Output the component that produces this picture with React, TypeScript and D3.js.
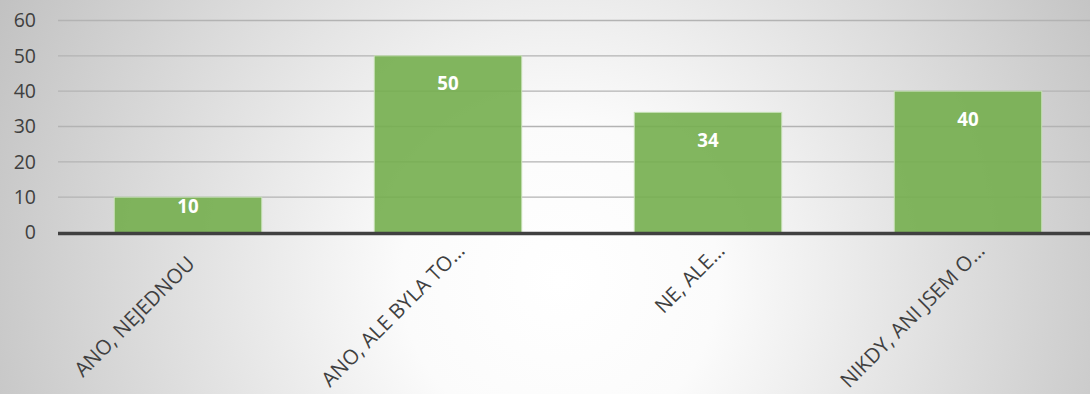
import React from "react";
import * as d3 from "d3";

const categories = ["ANO, NEJEDNOU", "ANO, ALE BYLA TO…", "NE, ALE…", "NIKDY, ANI JSEM O…"];
const values = [10, 50, 34, 40];
const yTicks = [0, 10, 20, 30, 40, 50, 60];

const W = 1090;
const H = 394;
const FONT = "'Open Sans', 'Noto Sans', sans-serif";

export default function App() {
  const x = d3.scaleBand<string>().domain(categories).range([58, 1098]).paddingInner(0.433).paddingOuter(0.2165);
  const y = d3.scaleLinear().domain([0, 60]).range([232.5, 20.5]);
  const x0 = 58;

  return (
    <div style={{ position: "absolute", left: 0, top: 0 }}>
      <svg width={W} height={H} style={{ display: "block" }}>
        <defs>
          <radialGradient id="bg" cx={560} cy={280} r={720} gradientUnits="userSpaceOnUse">
            <stop offset="0" stopColor="#ffffff" />
            <stop offset="0.22" stopColor="#fbfbfb" />
            <stop offset="1" stopColor="#b6b6b6" />
          </radialGradient>
        </defs>
        <rect x={0} y={0} width={W} height={H} fill="url(#bg)" />
        {yTicks.filter((t) => t > 0).map((t) => (
          <line key={t} x1={x0} x2={W} y1={y(t)} y2={y(t)} stroke="#b3b3b3" strokeWidth={1.4} />
        ))}
        {yTicks.map((t) => (
          <text key={"l" + t} x={36} y={y(t)} dy="0.35em" textAnchor="end" fontFamily={FONT} fontSize={19.5} fill="#404040">
            {t}
          </text>
        ))}
        {categories.map((c, i) => {
          const top = y(values[i]);
          const h = y(0) - top;
          const ly = Math.min(top + 28, top + h / 2 - 8);
          return (
            <g key={c}>
              <rect x={x(c)} y={top} width={x.bandwidth()} height={h} fill="#74ae4e" fillOpacity={0.9} stroke="#c5e0b4" strokeWidth={1} />
              <text x={(x(c) as number) + x.bandwidth() / 2} y={ly} dy="0.35em" textAnchor="middle" fontFamily={FONT} fontWeight={700} fontSize={18.7} fill="#ffffff">
                {values[i]}
              </text>
            </g>
          );
        })}
        <line x1={x0} x2={W} y1={233.5} y2={233.5} stroke="#404040" strokeWidth={3.5} />
        {categories.map((c) => {
          const truncated = c.endsWith("…");
          const cx = (x(c) as number) + x.bandwidth() / 2 + (truncated ? 18 : 8);
          const cy = truncated ? 252 : 265;
          return (
            <text key={"c" + c} x={cx} y={cy} transform={`rotate(-45 ${cx} ${cy})`} textAnchor="end" fontFamily={FONT} fontSize={20.5} fill="#404040">
              {c}
            </text>
          );
        })}
      </svg>
    </div>
  );
}
